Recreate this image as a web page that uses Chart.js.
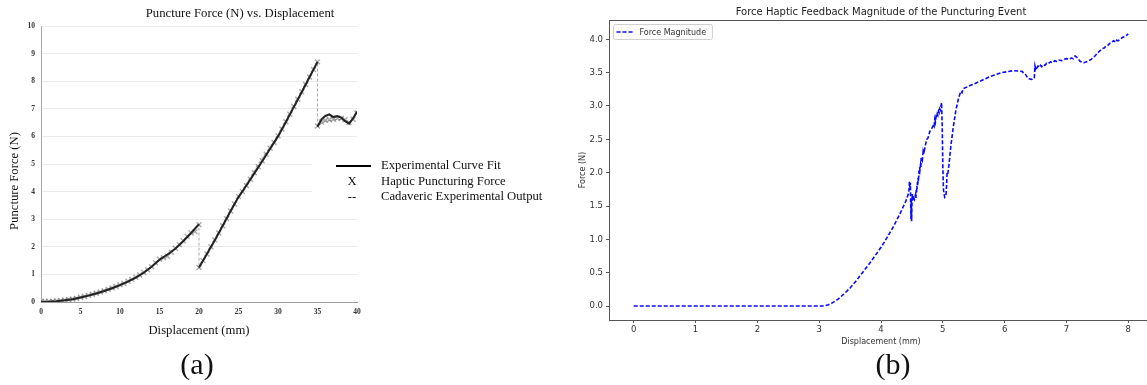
<!DOCTYPE html>
<html>
<head>
<meta charset="utf-8">
<script src="https://cdn.jsdelivr.net/npm/chart.js@4.4.1/dist/chart.umd.min.js"></script>
<style>
  html, body { margin: 0; padding: 0; background: #fff; }
  body { width: 1147px; height: 385px; overflow: hidden; position: relative; }
  #leftChart { position: absolute; left: 0; top: 0; }
  #rightChart { position: absolute; left: 560px; top: 0; }
  .caption {
    position: absolute; top: 347px; line-height: 34px;
    font-family: "Liberation Serif", serif; font-size: 30px; color: #111;
    transform: translateX(-50%);
  }
</style>
</head>
<body>
<canvas id="leftChart" width="560" height="385"></canvas>
<canvas id="rightChart" width="600" height="385"></canvas>
<div class="caption" style="left:197px">(a)</div>
<div class="caption" style="left:893px">(b)</div>
<script>
// ---- (a) puncture force vs displacement ----
const xTicksA = [0, 5, 10, 15, 20, 25, 30, 35, 40];
const yTicksA = [0, 1, 2, 3, 4, 5, 6, 7, 8, 9, 10];

// experimental curve fit, three pieces split by nulls
const fitX = [0, 1, 2, 3, 4, 5, 6, 7, 8, 9, 10, 11, 12, 13, 14, 15, 16, 17, 18, 19, 20,
  20,
  20, 21, 22, 23, 24, 25, 26, 27, 28, 29, 30, 31, 32, 33, 34, 35,
  35,
  35, 35.5, 36, 36.5, 37, 37.5, 38, 38.5, 39, 39.5, 40];
const fitY = [0.00, 0.01, 0.03, 0.06, 0.10, 0.16, 0.23, 0.31, 0.40, 0.50, 0.61, 0.74, 0.88, 1.06, 1.28, 1.53, 1.72, 1.93, 2.20, 2.50, 2.82,
  null,
  1.25, 1.74, 2.24, 2.76, 3.30, 3.80, 4.22, 4.66, 5.10, 5.55, 6.00, 6.52, 7.06, 7.60, 8.15, 8.70,
  null,
  6.35, 6.62, 6.74, 6.80, 6.70, 6.74, 6.68, 6.55, 6.46, 6.65, 6.90];

// haptic puncturing force samples (x markers)
const hapX = [0, 0.5, 1, 1.5, 2, 2.5, 3, 3.5, 4, 4.5, 5, 5.5, 6, 6.5, 7, 7.5, 8, 8.5, 9, 9.5,
  10, 10.5, 11, 11.5, 12, 12.5, 13, 13.5, 14, 14.5, 15, 15.5, 16, 16.5, 17, 17.5, 18, 18.5, 19, 19.5, 20,
  20, 20.5, 21, 21.5, 22, 22.5, 23, 23.5, 24, 24.5, 25, 25.5, 26, 26.5, 27, 27.5, 28, 28.5, 29, 29.5,
  30, 30.5, 31, 31.5, 32, 32.5, 33, 33.5, 34, 34.5, 35,
  35, 35.5, 36, 36.5, 37, 37.5, 38, 38.5, 39, 39.5, 40];
const hapY = [0.02, 0.03, 0.02, 0.03, 0.04, 0.05, 0.07, 0.08, 0.11, 0.13, 0.17, 0.20, 0.24, 0.28, 0.32, 0.36, 0.41, 0.46, 0.51, 0.56,
  0.62, 0.68, 0.75, 0.82, 0.90, 0.98, 1.07, 1.17, 1.28, 1.42, 1.55, 1.60, 1.66, 1.80, 1.95, 2.08, 2.22, 2.38, 2.50, 2.55, 2.80,
  1.25, 1.50, 1.74, 2.00, 2.25, 2.50, 2.76, 3.02, 3.30, 3.55, 3.82, 4.00, 4.22, 4.45, 4.68, 4.90, 5.12, 5.35, 5.57, 5.78,
  6.02, 6.27, 6.53, 6.80, 7.08, 7.35, 7.62, 7.88, 8.15, 8.42, 8.70,
  6.38, 6.52, 6.58, 6.60, 6.62, 6.66, 6.66, 6.60, 6.50, 6.62, 6.85];

// cadaveric experimental output (dashed), with the two drops
const cadX = [0, 2, 4, 6, 8, 10, 12, 14, 16, 18, 20, 20, 22.5, 25, 27.5, 30, 32.5, 35, 35, 36, 37, 38, 39, 40];
const cadY = [0.03, 0.05, 0.12, 0.25, 0.42, 0.63, 0.90, 1.30, 1.70, 2.20, 2.82, 1.25, 2.50, 3.82, 5.00, 6.05, 7.40, 8.72, 6.38, 6.55, 6.60, 6.62, 6.50, 6.85];

// ---- (b) haptic feedback force magnitude ----
const xTicksB = [0, 1, 2, 3, 4, 5, 6, 7, 8];
const yTicksB = [0, 0.5, 1, 1.5, 2, 2.5, 3, 3.5, 4];

const forceX = [0, 0.5, 1, 1.5, 2, 2.5, 3, 3.08,
  3.15, 3.2, 3.3, 3.4, 3.5, 3.6, 3.7, 3.8, 3.9, 4.0, 4.1, 4.2, 4.3, 4.4, 4.45,
  4.46, 4.47, 4.475, 4.48, 4.485, 4.49, 4.495, 4.5, 4.505, 4.51, 4.52, 4.54, 4.56,
  4.565, 4.57, 4.575, 4.58, 4.585, 4.59, 4.595, 4.6, 4.605, 4.61, 4.615, 4.62, 4.625, 4.63, 4.64, 4.645,
  4.65, 4.655, 4.66, 4.67, 4.68, 4.685, 4.69, 4.7, 4.72, 4.74, 4.76, 4.79, 4.82, 4.85,
  4.86, 4.87, 4.88, 4.89, 4.9, 4.91, 4.92, 4.93, 4.94, 4.95, 4.96, 4.97, 4.98,
  4.99, 5.0, 5.01, 5.03, 5.05, 5.06, 5.07, 5.08, 5.1, 5.13, 5.17, 5.21, 5.25, 5.29, 5.31, 5.33,
  5.45, 5.6, 5.76, 5.95, 6.14, 6.28, 6.34, 6.38, 6.44, 6.48, 6.49,
  6.5, 6.51, 6.52, 6.54, 6.56, 6.58, 6.6, 6.62, 6.65, 6.68, 6.7, 6.74, 6.78, 6.81, 6.84, 6.88, 6.92, 6.96,
  7.0, 7.04, 7.08, 7.11, 7.14, 7.18, 7.22, 7.28, 7.34, 7.4, 7.46, 7.52, 7.58, 7.61, 7.64, 7.67, 7.7, 7.73,
  7.76, 7.78, 7.8, 7.82, 7.84, 7.86, 7.88, 7.91, 7.94, 7.97, 8.0];
const forceY = [0, 0, 0, 0, 0, 0, 0, 0,
  0.02, 0.04, 0.10, 0.18, 0.27, 0.38, 0.50, 0.62, 0.75, 0.88, 1.03, 1.19, 1.37, 1.57, 1.70,
  1.87, 1.74, 1.85, 1.55, 1.30, 1.60, 1.27, 1.50, 1.68, 1.58, 1.65, 1.60, 1.68,
  1.62, 1.74, 1.70, 1.80, 1.76, 1.86, 1.82, 1.92, 1.87, 1.95, 2.03, 1.98, 2.08, 2.04, 2.12, 2.08,
  2.22, 2.17, 2.24, 2.20, 2.30, 2.27, 2.36, 2.33, 2.42, 2.50, 2.52, 2.62, 2.66, 2.72,
  2.70, 2.80, 2.76, 2.84, 2.82, 2.88, 2.86, 2.92, 2.90, 2.96, 2.94, 3.00, 3.05,
  2.70, 2.10, 1.75, 1.63, 1.65, 1.80, 2.00, 1.98, 2.12, 2.40, 2.69, 2.93, 3.10, 3.22, 3.20, 3.26,
  3.31, 3.37, 3.44, 3.50, 3.53, 3.52, 3.47, 3.41, 3.40, 3.42, 3.60,
  3.56, 3.59, 3.57, 3.60, 3.58, 3.61, 3.59, 3.62, 3.61, 3.64, 3.63, 3.66, 3.65, 3.68, 3.67, 3.69, 3.68, 3.70,
  3.71, 3.70, 3.72, 3.71, 3.75, 3.72, 3.67, 3.65, 3.67, 3.70, 3.75, 3.81, 3.86, 3.87, 3.90, 3.91, 3.94, 3.95,
  3.98, 3.97, 4.00, 3.98, 3.98, 4.00, 4.01, 4.03, 4.04, 4.06, 4.08];

const pts = (xs, ys) => xs.map((x, i) => ({ x: x, y: ys[i] }));
const fixedTicks = vals => scale => { scale.ticks = vals.map(v => ({ value: v })); };

Chart.defaults.animation = false;
Chart.defaults.responsive = false;

// title, y label and side legend for (a)
const leftDecor = {
  id: 'leftDecor',
  afterDraw(chart) {
    const { ctx, chartArea: a } = chart;
    ctx.save();
    ctx.fillStyle = '#111';
    ctx.font = '12.7px "Liberation Serif"';
    ctx.textAlign = 'center';
    ctx.textBaseline = 'middle';
    ctx.fillText('Puncture Force (N) vs. Displacement', 240, 14);

    ctx.save();
    ctx.translate(15, 181);
    ctx.rotate(-Math.PI / 2);
    ctx.fillText('Puncture Force (N)', 0, 0);
    ctx.restore();

    const lx = a.right - 45, ly = 150;
    ctx.fillStyle = '#fff';
    ctx.fillRect(lx, ly, chart.width - lx, 56);

    ctx.strokeStyle = '#000';
    ctx.lineWidth = 2;
    ctx.beginPath();
    ctx.moveTo(lx + 24, ly + 16);
    ctx.lineTo(lx + 59, ly + 16);
    ctx.stroke();

    ctx.fillStyle = '#111';
    ctx.fillText('X', lx + 40, ly + 32);
    ctx.fillText('--', lx + 40, ly + 47);
    ctx.textAlign = 'left';
    ctx.fillText('Experimental Curve Fit', lx + 69, ly + 16);
    ctx.fillText('Haptic Puncturing Force', lx + 69, ly + 32);
    ctx.fillText('Cadaveric Experimental Output', lx + 69, ly + 47);
    ctx.restore();
  }
};

new Chart(document.getElementById('leftChart'), {
  type: 'line',
  data: {
    datasets: [
      {
        label: 'Cadaveric Experimental Output',
        data: pts(cadX, cadY),
        borderColor: '#a8a8a8',
        borderWidth: 1,
        borderDash: [3, 2],
        pointRadius: 0,
        order: 3
      },
      {
        label: 'Haptic Puncturing Force',
        data: pts(hapX, hapY),
        showLine: false,
        pointStyle: 'crossRot',
        pointRadius: 3.5,
        pointBorderWidth: 1.4,
        borderColor: 'rgba(100,100,100,0.55)',
        order: 2
      },
      {
        label: 'Experimental Curve Fit',
        data: pts(fitX, fitY),
        borderColor: '#222',
        borderWidth: 2,
        pointRadius: 0,
        spanGaps: false,
        order: 1
      }
    ]
  },
  options: {
    layout: { padding: { top: 26, right: 203, left: 0, bottom: 0 } },
    plugins: { legend: { display: false }, tooltip: { enabled: false } },
    scales: {
      x: {
        type: 'linear', min: 0, max: 40,
        afterBuildTicks: fixedTicks(xTicksA),
        afterFit: s => { s.height = 83; },
        grid: { display: false, drawTicks: false },
        border: { display: true, color: '#9c9c9c' },
        ticks: { padding: 6, color: '#333', font: { family: 'Liberation Serif', size: 7.5, weight: 'bold' } },
        title: {
          display: true, text: 'Displacement (mm)', color: '#111',
          font: { family: 'Liberation Serif', size: 12.7 },
          padding: { top: 0, bottom: 47 }
        }
      },
      y: {
        min: 0, max: 10,
        afterBuildTicks: fixedTicks(yTicksA),
        afterFit: s => { s.width = 41; },
        grid: { color: '#ebebeb', drawTicks: false },
        border: { display: true, color: '#a8a8a8' },
        ticks: { padding: 6, color: '#333', font: { family: 'Liberation Serif', size: 7.5, weight: 'bold' } }
      }
    }
  },
  plugins: [leftDecor]
});

// top spine + boxed legend for (b)
const rightDecor = {
  id: 'rightDecor',
  afterDraw(chart) {
    const { ctx, chartArea: a } = chart;
    ctx.save();
    ctx.strokeStyle = '#555';
    ctx.lineWidth = 1;
    ctx.beginPath();
    ctx.moveTo(a.left, Math.round(a.top) + 0.5);
    ctx.lineTo(chart.width, Math.round(a.top) + 0.5);
    ctx.stroke();

    const bx = a.left + 4.5, by = a.top + 4.5;
    ctx.fillStyle = 'rgba(255,255,255,0.9)';
    ctx.strokeStyle = '#d0d0d0';
    ctx.beginPath();
    ctx.roundRect(bx, by, 99, 15, 2);
    ctx.fill();
    ctx.stroke();

    const ds = chart.data.datasets[0];
    ctx.strokeStyle = ds.borderColor;
    ctx.lineWidth = ds.borderWidth;
    ctx.setLineDash(ds.borderDash);
    ctx.beginPath();
    ctx.moveTo(bx + 3, by + 7.5);
    ctx.lineTo(bx + 20, by + 7.5);
    ctx.stroke();
    ctx.setLineDash([]);

    ctx.fillStyle = '#333';
    ctx.font = '8px "DejaVu Sans"';
    ctx.textBaseline = 'middle';
    ctx.fillText(ds.label, bx + 26, by + 8);
    ctx.restore();
  }
};

new Chart(document.getElementById('rightChart'), {
  type: 'line',
  data: {
    datasets: [{
      label: 'Force Magnitude',
      data: pts(forceX, forceY),
      borderColor: 'rgb(10,10,250)',
      borderWidth: 1.6,
      borderDash: [4, 2],
      pointRadius: 0,
      tension: 0
    }]
  },
  options: {
    layout: { padding: { top: 0, right: 7, left: 0, bottom: 0 } },
    plugins: {
      legend: { display: false },
      tooltip: { enabled: false },
      title: {
        display: true,
        fullSize: false,
        text: 'Force Haptic Feedback Magnitude of the Puncturing Event',
        color: '#222',
        font: { family: 'DejaVu Sans', size: 10, weight: 'normal' },
        padding: { top: 6, bottom: 2 }
      }
    },
    scales: {
      x: {
        type: 'linear', min: -0.4, max: 8.4,
        afterBuildTicks: fixedTicks(xTicksB),
        afterFit: s => { s.height = 65; },
        grid: { drawOnChartArea: false, drawTicks: true, tickLength: 3, tickColor: '#555' },
        border: { display: true, color: '#555' },
        ticks: { padding: 2, color: '#333', font: { family: 'DejaVu Sans', size: 8.5 }, callback: v => String(v) },
        title: {
          display: true, text: 'Displacement (mm)', color: '#333',
          font: { family: 'DejaVu Sans', size: 8 },
          padding: { top: 0, bottom: 38 }
        }
      },
      y: {
        min: -0.21, max: 4.29,
        afterBuildTicks: fixedTicks(yTicksB),
        afterFit: s => { s.width = 49; },
        grid: { drawOnChartArea: false, drawTicks: true, tickLength: 3, tickColor: '#555' },
        border: { display: true, color: '#555' },
        ticks: { padding: 3, color: '#333', font: { family: 'DejaVu Sans', size: 8.5 }, callback: v => v.toFixed(1) },
        title: {
          display: true, text: 'Force (N)', color: '#333',
          font: { family: 'DejaVu Sans', size: 8 },
          padding: { top: 18, bottom: 0 }
        }
      }
    }
  },
  plugins: [rightDecor]
});
</script>
</body>
</html>
